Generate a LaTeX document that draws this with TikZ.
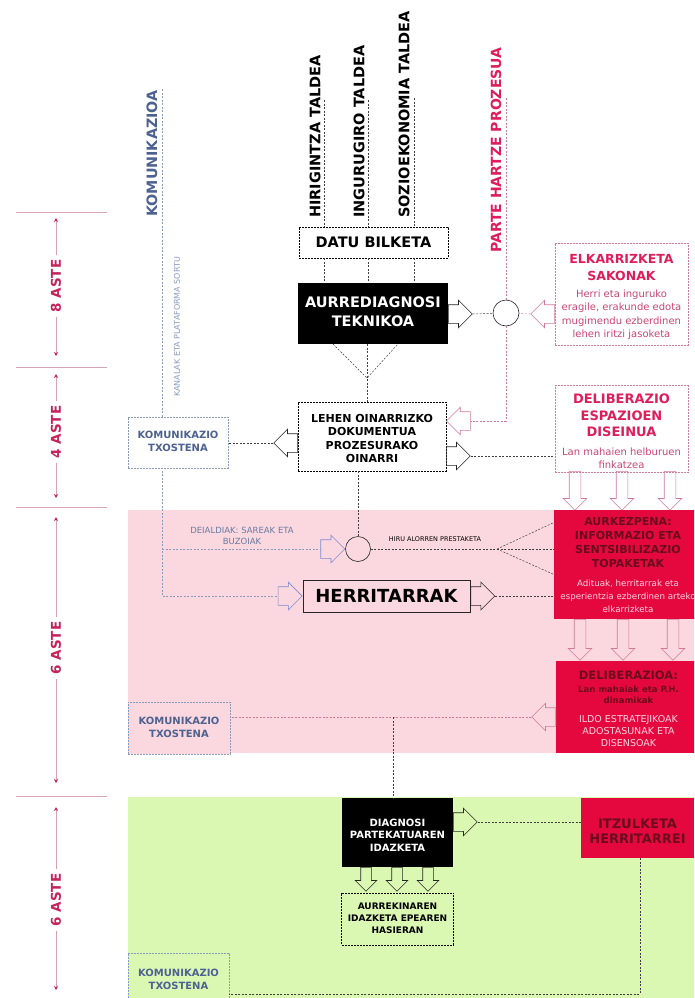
\documentclass[tikz,border=0pt]{standalone}
\usepackage{fontspec}
\setmainfont{DejaVu Sans}
\usepackage{xcolor}
\usetikzlibrary{shapes.arrows, arrows.meta}

\definecolor{partered}{HTML}{DC1F5A}
\definecolor{elkbody}{HTML}{C8466F}
\definecolor{pinkline}{HTML}{D27A98}
\definecolor{boxred}{HTML}{E4083E}
\definecolor{titlered}{HTML}{6A0B1E}
\definecolor{palepink}{HTML}{FFD3DC}
\definecolor{pinkbg}{HTML}{FBD8DF}
\definecolor{greenbg}{HTML}{DBF8B3}
\definecolor{komblue}{HTML}{4D6291}
\definecolor{komline}{HTML}{8A9BBE}
\definecolor{arrowblue}{HTML}{7D8BD0}
\definecolor{weekred}{HTML}{C4245A}
\definecolor{weekline}{HTML}{D6A3B6}

\newcommand{\ttlfont}[1]{\bfseries\fontsize{#1}{#1}\selectfont}
\newcommand{\toprow}[1]{\rule{0pt}{#1}}

\tikzset{
  dline/.style={dash pattern=on 2pt off 1.5pt, line width=0.5pt, draw=black!75},
  pline/.style={dline, draw=pinkline},
  bline/.style={dline, draw=komline},
  dbox/.style={draw, dash pattern=on 2pt off 1pt, line width=0.6pt, fill=white, inner sep=0pt},
  redbox/.style={fill=boxred, inner sep=0pt},
  fat/.style={single arrow, draw=black!85, line width=0.6pt, minimum height=24pt, minimum width=27pt, single arrow head extend=4.5pt, inner xsep=0pt, inner ysep=9pt},
  fatpink/.style={fat, draw=pinkline},
  fatblue/.style={fat, draw=arrowblue},
  downpink/.style={fatpink, shape border rotate=270, minimum width=23pt, inner xsep=5.5pt, inner ysep=0pt, single arrow head extend=6pt},
  downblack/.style={fat, shape border rotate=270, minimum height=24pt, minimum width=21pt, inner xsep=5pt, inner ysep=0pt, single arrow head extend=5.5pt},
  vtitle/.style={rotate=90, anchor=west, inner sep=0pt, font=\fontsize{14.5}{17}\selectfont\bfseries},
  week/.style={rotate=90, inner sep=4pt, text=weekred, font=\fontsize{13.5}{16}\selectfont\bfseries},
  weekarrow/.style={draw=weekline, line width=0.7pt, -{Stealth[length=4pt, width=4pt, color=weekred]}},
  komfont/.style={text=komblue, font=\fontsize{10}{13}\selectfont\bfseries}
}

\begin{document}
\begin{tikzpicture}[x=1pt, y=-1pt]
\useasboundingbox (0,0) rectangle (694,998);
\clip (0,0) rectangle (694,998);
\fill[white] (0,0) rectangle (694,998);
\fill[pinkbg] (128,510) rectangle (694,753);
\fill[greenbg] (128,797) rectangle (694,998);

% weeks
\foreach \y in {212,367,507,796}
  \draw[weekline, line width=0.8pt] (16,\y) -- (107,\y);
\node[week] (w8) at (56,286) {8 ASTE};
\coordinate (w8a) at (56,218); \coordinate (w8b) at (56,356);
\draw[weekarrow] (w8) -- (w8a); \draw[weekarrow] (w8) -- (w8b);
\node[week] (w4) at (56,432) {4 ASTE};
\coordinate (w4a) at (56,374); \coordinate (w4b) at (56,498);
\draw[weekarrow] (w4) -- (w4a); \draw[weekarrow] (w4) -- (w4b);
\node[week] (w6a) at (56,648) {6 ASTE};
\coordinate (w6aa) at (56,517); \coordinate (w6ab) at (56,783);
\draw[weekarrow] (w6a) -- (w6aa); \draw[weekarrow] (w6a) -- (w6ab);
\node[week] (w6b) at (56,900) {6 ASTE};
\coordinate (w6ba) at (56,807); \coordinate (w6bb) at (56,990);
\draw[weekarrow] (w6b) -- (w6ba); \draw[weekarrow] (w6b) -- (w6bb);

% column titles
\node[vtitle, text=komblue, font=\fontsize{14.3}{17}\selectfont\bfseries] (komtitle) at (152,217) {KOMUNIKAZIOA};
\node[vtitle] (hiri) at (315,218) {HIRIGINTZA TALDEA};
\node[vtitle] (ingu) at (359,218) {INGURUGIRO TALDEA};
\node[vtitle] (sozio) at (404,218) {SOZIOEKONOMIA TALDEA};
\node[vtitle, text=partered, font=\fontsize{14}{17}\selectfont\bfseries] (parte) at (496,253) {PARTE HARTZE PROZESUA};
\node[rotate=90, anchor=west, inner sep=0pt, text=komline, font=\fontsize{8}{10}\selectfont] (kanal) at (177,397) {KANALAK ETA PLATAFORMA SORTU};

% boxes
\node[dbox, minimum width=149pt, minimum height=31pt, font=\fontsize{14.5}{17}\selectfont\bfseries] (datu) at (373.5,242.5) {DATU BILKETA};
\node[fill=black, text=white, inner sep=0pt, minimum width=150pt, minimum height=61pt, font=\fontsize{14.5}{19}\selectfont\bfseries] (aurre) at (373,313.5)
  {\begin{tabular}{c}AURREDIAGNOSI\\TEKNIKOA\end{tabular}};
\node[dbox, minimum width=148pt, minimum height=69pt, font=\fontsize{11}{13.5}\selectfont\bfseries] (lehen) at (372,436.5)
  {\begin{tabular}{c}\toprow{16.5pt}LEHEN OINARRIZKO\\DOKUMENTUA\\PROZESURAKO\\OINARRI\end{tabular}};
\node[dbox, draw=pinkline, minimum width=133pt, minimum height=102pt, font=\fontsize{10}{13.5}\selectfont] (elkar) at (621.5,294)
  {\begin{tabular}{c}\toprow{17.5pt}\ttlfont{12.5}\color{partered}ELKARRIZKETA\\[3.5pt] \ttlfont{12.5}\color{partered}SAKONAK\\[3.5pt]
   \color{elkbody}Herri eta inguruko\\ \color{elkbody}eragile, erakunde edota\\ \color{elkbody}mugimendu ezberdinen\\ \color{elkbody}lehen iritzi jasoketa\end{tabular}};
\node[dbox, draw=pinkline, minimum width=133pt, minimum height=84pt, font=\fontsize{10}{13}\selectfont] (delib) at (621.5,429)
  {\begin{tabular}{c}\toprow{18pt}\ttlfont{13}\color{partered}DELIBERAZIO\\[3pt] \ttlfont{13}\color{partered}ESPAZIOEN\\[3pt] \ttlfont{13}\color{partered}DISEINUA\\[6pt]
   \color{elkbody}Lan mahaien helburuen\\ \color{elkbody}finkatzea\end{tabular}};
\node[circle, draw=black!85, line width=0.6pt, fill=white, minimum size=26pt, inner sep=0pt] (circ1) at (506,313) {};

% arrows round the top boxes
\node[fat, anchor=tail] (aurreR) at (448,314) {};
\node[fatpink, shape border rotate=180, anchor=tail] (elkL) at (555,314) {};
\node[fat, shape border rotate=180, anchor=tail] (lehenL) at (298,443) {};
\node[fatpink, shape border rotate=180, anchor=tip] (lehenIn) at (446,421) {};
\node[fat, anchor=tail] (lehenR) at (446,456) {};
\node[downpink, minimum height=39pt, anchor=tail] (dd1) at (575,471) {};
\node[downpink, minimum height=39pt, anchor=tail] (dd2) at (622,471) {};
\node[downpink, minimum height=39pt, anchor=tail] (dd3) at (670,471) {};

% pink band
\node[circle, draw=black!85, line width=0.6pt, minimum size=25pt, inner sep=0pt] (circ2) at (358,549) {};
\node[draw=black!85, line width=0.8pt, inner sep=0pt, minimum width=167pt, minimum height=32pt, font=\fontsize{18}{21}\selectfont\bfseries] (herri) at (386.5,596) {HERRITARRAK};
\node[fatblue, anchor=tip] (blueC) at (circ2.west) {};
\node[fatblue, anchor=tip] (blueH) at (herri.west) {};
\node[fat, anchor=tail] (herriR) at (herri.east) {};
\node[redbox, minimum width=146pt, minimum height=109pt, font=\fontsize{8.7}{14}\selectfont] (aurkez) at (628,564.5)
  {\begin{tabular}{c}\toprow{13.8pt}\ttlfont{11}\color{titlered}AURKEZPENA:\\ \ttlfont{11}\color{titlered}INFORMAZIO ETA\\ \ttlfont{11}\color{titlered}SENTSIBILIZAZIO\\ \ttlfont{11}\color{titlered}TOPAKETAK\\[5pt]
   \color{palepink}Adituak, herritarrak eta\\[-1pt] \color{palepink}esperientzia ezberdinen arteko\\[-1pt] \color{palepink}elkarrizketa\end{tabular}};
\node[downpink, minimum height=41pt, anchor=tail] (du1) at (580,619) {};
\node[downpink, minimum height=41pt, anchor=tail] (du2) at (623,619) {};
\node[downpink, minimum height=41pt, anchor=tail] (du3) at (673,619) {};
\node[redbox, minimum width=145pt, minimum height=92pt, font=\fontsize{9.5}{12}\selectfont] (deli) at (628.5,707)
  {\begin{tabular}{c}\toprow{15.4pt}\ttlfont{11.5}\color{titlered}DELIBERAZIOA:\\[1pt] \ttlfont{8.5}\color{titlered}Lan mahaiak eta P.H.\\[-1pt] \ttlfont{8.5}\color{titlered}dinamikak\\[7pt]
   \color{palepink}ILDO ESTRATEJIKOAK\\ \color{palepink}ADOSTASUNAK ETA\\ \color{palepink}DISENSOAK\end{tabular}};
\node[fatpink, shape border rotate=180, anchor=tail] (deliL) at (556,717) {};
\node[text=komblue!85, font=\fontsize{8.5}{10.5}\selectfont] (deial) at (242,537)
  {\begin{tabular}{c}DEIALDIAK: SAREAK ETA\\BUZOIAK\end{tabular}};
\node[font=\fontsize{6.5}{8}\selectfont] (hiru) at (435,539) {HIRU ALORREN PRESTAKETA};

% green band
\node[fill=black, text=white, inner sep=0pt, minimum width=111pt, minimum height=69pt, font=\fontsize{10}{12.5}\selectfont\bfseries] (diag) at (397.5,832.5)
  {\begin{tabular}{c}\toprow{16.5pt}DIAGNOSI\\PARTEKATUAREN\\IDAZKETA\end{tabular}};
\node[redbox, minimum width=113pt, minimum height=60pt, text=titlered, font=\fontsize{13}{15}\selectfont\bfseries] (itzul) at (637.5,828)
  {\begin{tabular}{c}\toprow{20pt}ITZULKETA\\HERRITARREI\end{tabular}};
\node[fat, anchor=tail] (diagR) at (453,822) {};
\node[downblack, anchor=tail] (dg1) at (366,867) {};
\node[downblack, anchor=tail] (dg2) at (397,867) {};
\node[downblack, anchor=tail] (dg3) at (428,867) {};
\node[dbox, fill=greenbg, minimum width=111pt, minimum height=52pt, font=\fontsize{9}{12}\selectfont\bfseries] (aurreki) at (397.5,919)
  {\begin{tabular}{c}AURREKINAREN\\IDAZKETA EPEAREN\\HASIERAN\end{tabular}};

% connectors
\coordinate (komtop) at (162,89);
\draw[bline] (komtop) -- (komtop |- blueH.tail) -- (blueH.tail);
\draw[bline] (komtop |- blueC.tail) -- (blueC.tail);
\node[dbox, draw=komline, komfont, minimum width=100pt, minimum height=51pt] (kom1) at (178,442.5)
  {\begin{tabular}{c}KOMUNIKAZIO\\TXOSTENA\end{tabular}};
\node[dbox, draw=komline, fill=pinkbg, komfont, minimum width=102pt, minimum height=52pt] (kom2) at (179,728)
  {\begin{tabular}{c}KOMUNIKAZIO\\TXOSTENA\end{tabular}};
\node[dbox, draw=komline, fill=greenbg, komfont, minimum width=101pt, minimum height=52pt] (kom3) at (178.5,979)
  {\begin{tabular}{c}\toprow{11pt}KOMUNIKAZIO\\TXOSTENA\end{tabular}};

\coordinate (hiritop) at (324,100);
\coordinate (ingutop) at (368,100);
\coordinate (soziotop) at (414,98);
\draw[dline] (hiritop) -- (hiritop |- datu.north);
\draw[dline] (ingutop) -- (ingutop |- datu.north);
\draw[dline] (soziotop) -- (soziotop |- datu.north);
\draw[dline] (hiritop |- datu.south) -- (hiritop |- aurre.north);
\draw[dline] (ingutop |- datu.south) -- (ingutop |- aurre.north);
\draw[dline] (soziotop |- datu.south) -- (soziotop |- aurre.north);

\coordinate (partetop) at (506,98);
\draw[pline] (partetop) -- (circ1);
\draw[pline] (circ1) -- (circ1 |- lehenIn.tail) -- (lehenIn.tail);
\draw[dline] (aurreR.tip) -- (circ1);
\draw[pline] (elkL.tip) -- (circ1);
\draw[dline] (lehenR.tip) -- (lehenR.tip -| delib.west);
\draw[dline] (lehenL.tip) -- (lehenL.tip -| kom1.east);

\coordinate (conv) at (367,378);
\coordinate (fanL) at (333,344);
\coordinate (fanR) at (398,344);
\draw[dline] (fanL) -- (conv) -- (fanR);
\draw[dline] (conv |- aurre.south) -- (conv |- lehen.north);
\draw[dline] (circ2 |- lehen.south) -- (circ2);

\coordinate (split) at (497,549);
\coordinate (splitU) at (555,522);
\coordinate (splitD) at (555,575);
\draw[dline] (circ2) -- (split);
\draw[dline] (split) -- (splitU);
\draw[dline] (split) -- (split -| aurkez.west);
\draw[dline] (split) -- (splitD);
\draw[dline] (herriR.tip) -- (herriR.tip -| aurkez.west);
\draw[pline] (deliL.tip) -- (deliL.tip -| kom2.east);

\coordinate (drop) at (393,717);
\draw[dline] (drop) -- (drop |- diag.north);
\draw[dline] (diagR.tip) -- (diagR.tip -| itzul.west);
\coordinate (ret) at (640,994);
\draw[dline] (ret |- itzul.south) -- (ret) -- (ret -| kom3.east);
\end{tikzpicture}
\end{document}
